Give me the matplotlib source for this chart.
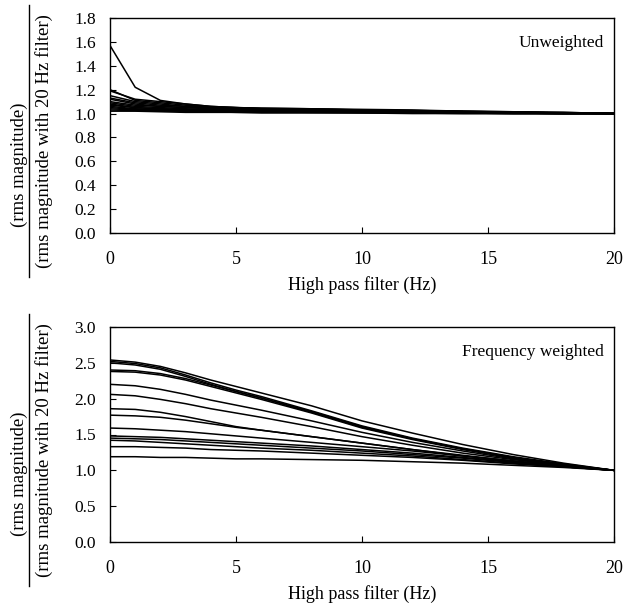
import matplotlib
matplotlib.use("Agg")
import matplotlib.pyplot as plt
from matplotlib.lines import Line2D

# === Data ===
HPF = [0, 1, 2, 3, 4, 5, 6, 8, 10, 12, 14, 16, 18, 20]   # high pass filter (Hz)

UNWEIGHTED = [
    [1.57, 1.22, 1.11, 1.08, 1.06, 1.05, 1.045, 1.04, 1.035, 1.03, 1.02, 1.015, 1.01, 1.00],
    [1.20, 1.11, 1.09, 1.07, 1.055, 1.05, 1.045, 1.04, 1.03, 1.025, 1.02, 1.015, 1.01, 1.00],
    [1.19, 1.12, 1.10, 1.08, 1.06, 1.05, 1.04, 1.035, 1.03, 1.025, 1.02, 1.01, 1.005, 1.00],
    [1.15, 1.10, 1.08, 1.06, 1.05, 1.045, 1.04, 1.035, 1.03, 1.02, 1.015, 1.01, 1.005, 1.00],
    [1.13, 1.09, 1.07, 1.06, 1.05, 1.04, 1.035, 1.03, 1.025, 1.02, 1.015, 1.01, 1.005, 1.00],
    [1.12, 1.08, 1.06, 1.05, 1.045, 1.04, 1.035, 1.03, 1.025, 1.02, 1.015, 1.01, 1.005, 1.00],
    [1.10, 1.07, 1.06, 1.05, 1.04, 1.035, 1.03, 1.025, 1.02, 1.015, 1.01, 1.01, 1.005, 1.00],
    [1.09, 1.06, 1.05, 1.04, 1.035, 1.03, 1.03, 1.025, 1.02, 1.015, 1.01, 1.005, 1.00, 1.00],
    [1.08, 1.05, 1.04, 1.035, 1.03, 1.03, 1.025, 1.02, 1.02, 1.015, 1.01, 1.005, 1.00, 1.00],
    [1.07, 1.05, 1.04, 1.03, 1.03, 1.025, 1.02, 1.02, 1.015, 1.01, 1.01, 1.005, 1.00, 1.00],
    [1.06, 1.04, 1.035, 1.03, 1.025, 1.02, 1.02, 1.015, 1.015, 1.01, 1.005, 1.005, 1.00, 1.00],
    [1.05, 1.035, 1.03, 1.025, 1.02, 1.02, 1.015, 1.015, 1.01, 1.01, 1.005, 1.00, 1.00, 1.00],
    [1.04, 1.03, 1.025, 1.02, 1.02, 1.015, 1.015, 1.01, 1.01, 1.005, 1.005, 1.00, 1.00, 1.00],
    [1.03, 1.025, 1.02, 1.02, 1.015, 1.01, 1.01, 1.01, 1.005, 1.005, 1.00, 1.00, 1.00, 1.00],
    [1.02, 1.02, 1.015, 1.01, 1.01, 1.01, 1.005, 1.005, 1.005, 1.00, 1.00, 1.00, 1.00, 1.00],
]

WEIGHTED = [
    [2.54, 2.51, 2.45, 2.36, 2.26, 2.17, 2.08, 1.90, 1.69, 1.52, 1.36, 1.22, 1.10, 1.00],
    [2.52, 2.49, 2.43, 2.33, 2.22, 2.12, 2.03, 1.83, 1.62, 1.45, 1.31, 1.19, 1.09, 1.00],
    [2.50, 2.47, 2.41, 2.31, 2.20, 2.10, 2.01, 1.81, 1.60, 1.44, 1.30, 1.18, 1.08, 1.00],
    [2.40, 2.39, 2.35, 2.28, 2.19, 2.10, 2.01, 1.82, 1.61, 1.44, 1.30, 1.18, 1.08, 1.00],
    [2.38, 2.37, 2.33, 2.26, 2.17, 2.08, 1.99, 1.80, 1.59, 1.43, 1.29, 1.17, 1.08, 1.00],
    [2.20, 2.18, 2.13, 2.06, 1.98, 1.91, 1.84, 1.69, 1.53, 1.39, 1.27, 1.16, 1.07, 1.00],
    [2.06, 2.04, 1.99, 1.93, 1.86, 1.80, 1.74, 1.61, 1.47, 1.35, 1.24, 1.15, 1.07, 1.00],
    [1.86, 1.85, 1.81, 1.75, 1.68, 1.61, 1.56, 1.47, 1.38, 1.29, 1.21, 1.13, 1.06, 1.00],
    [1.77, 1.76, 1.74, 1.70, 1.65, 1.60, 1.56, 1.47, 1.38, 1.29, 1.20, 1.13, 1.06, 1.00],
    [1.59, 1.58, 1.56, 1.54, 1.51, 1.48, 1.45, 1.39, 1.33, 1.27, 1.20, 1.13, 1.06, 1.00],
    [1.48, 1.47, 1.46, 1.44, 1.42, 1.40, 1.38, 1.34, 1.29, 1.24, 1.18, 1.12, 1.06, 1.00],
    [1.45, 1.44, 1.43, 1.41, 1.39, 1.37, 1.35, 1.31, 1.27, 1.22, 1.17, 1.11, 1.05, 1.00],
    [1.42, 1.41, 1.39, 1.37, 1.35, 1.33, 1.31, 1.28, 1.24, 1.20, 1.15, 1.10, 1.05, 1.00],
    [1.33, 1.33, 1.32, 1.31, 1.29, 1.28, 1.27, 1.24, 1.21, 1.18, 1.14, 1.09, 1.05, 1.00],
    [1.19, 1.19, 1.18, 1.18, 1.17, 1.16, 1.16, 1.15, 1.14, 1.12, 1.10, 1.07, 1.04, 1.00],
]

X_TICKS = [0, 5, 10, 15, 20]
TOP_YTICKS = [0.0, 0.2, 0.4, 0.6, 0.8, 1.0, 1.2, 1.4, 1.6, 1.8]
BOT_YTICKS = [0.0, 0.5, 1.0, 1.5, 2.0, 2.5, 3.0]

plt.rcParams['font.family'] = ['Liberation Serif', 'DejaVu Serif']
plt.rcParams['font.size'] = 13

W, H = 626, 605
fig = plt.figure(figsize=(W / 100, H / 100), dpi=100)


def panel(top_px, series, yticks, ylim, note):
    left, right, bottom_px = 110, 614, top_px + 215
    ax = fig.add_axes([left / W, 1 - bottom_px / H, (right - left) / W, 215 / H])
    for s in series:
        ax.plot(HPF, s, color='black', lw=1.1)
    ax.set_xlim(0, 20)
    ax.set_ylim(*ylim)
    ax.set_xticks(X_TICKS)
    ax.set_yticks(yticks)
    ax.set_yticklabels([f"{t:.1f}" for t in yticks])
    ax.tick_params(direction='in', length=4, width=0.8)
    ax.tick_params(axis='x', pad=13, labelsize=13)
    ax.tick_params(axis='y', pad=10, labelsize=12.5)
    for sp in ax.spines.values():
        sp.set_linewidth(1.0)
    ax.set_xlabel("High pass filter (Hz)", labelpad=6)
    ax.text(0.98, 0.885, note, transform=ax.transAxes, ha='right', va='center', fontsize=12.5)

    # fraction-style y label
    mid = top_px + 123
    fig.text(19 / W, 1 - (mid + 24) / H, "(rms magnitude)", rotation=90,
             ha='center', va='center', fontsize=13.5)
    fig.text(44 / W, 1 - mid / H, "(rms magnitude with 20 Hz filter)", rotation=90,
             ha='center', va='center', fontsize=13.5)
    fig.add_artist(Line2D([29 / W, 29 / W], [1 - (top_px - 13) / H, 1 - (top_px + 259) / H],
                          color='black', lw=1.0))
    return ax


panel(18, UNWEIGHTED, TOP_YTICKS, (0, 1.8), "Unweighted")
panel(327, WEIGHTED, BOT_YTICKS, (0, 3.0), "Frequency weighted")

fig.savefig("out.png", dpi=100)
